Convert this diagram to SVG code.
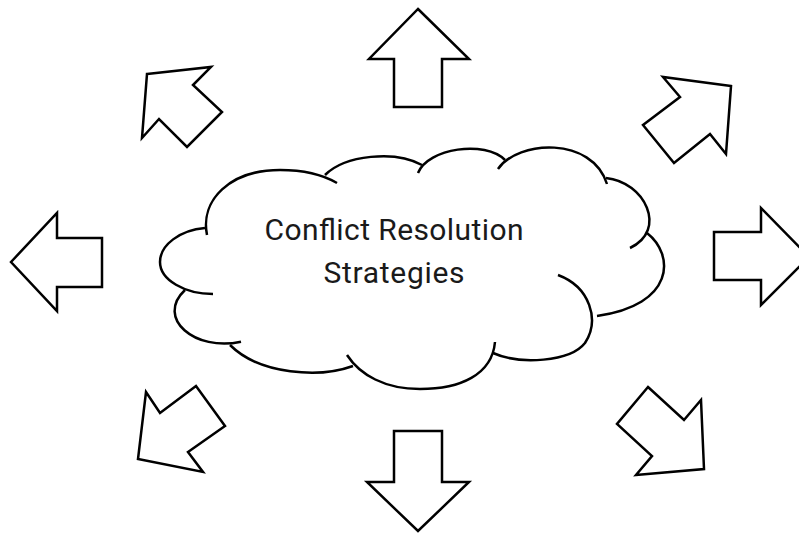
<svg xmlns="http://www.w3.org/2000/svg" width="799" height="534" viewBox="0 0 799 534">
<style>
.arr{fill:#fff;stroke:#000;stroke-width:2.5;stroke-linejoin:miter}
.lobe{fill:none;stroke:#000;stroke-width:2.5;stroke-linecap:butt}
.lbl{font-family:Roboto,"Liberation Sans",sans-serif;font-weight:400;font-size:30px;fill:#1a1a1a;text-anchor:middle}
</style>
<rect width="799" height="534" fill="#fff"/>
<g id="cloud">
<path class="lobe" d="M207,235 C200,200 230,170 280,170 C305,170 325,176 337,183"/>
<path class="lobe" d="M325,175 C345,155 395,150 422,165"/>
<path class="lobe" d="M418,173 C428,148 485,140 505,160"/>
<path class="lobe" d="M498,169 C518,140 592,136 607,184"/>
<path class="lobe" d="M606,178 C645,182 668,230 630,248"/>
<path class="lobe" d="M647,233 C675,255 675,305 597,316"/>
<path class="lobe" d="M558,275 C590,287 600,320 585,343 C570,362 520,365 493,353"/>
<path class="lobe" d="M495,342 C492,375 460,389 420,389 C385,389 360,375 347,355"/>
<path class="lobe" d="M353,366 C320,378 260,375 230,345"/>
<path class="lobe" d="M241,341.7 C195,352 155,318 185,290"/>
<path class="lobe" d="M213,294 C185,294 160,280 160,262 C160,245 180,230 205,228"/>
<text class="lbl" x="394" y="240" textLength="259">Conflict Resolution</text>
<text class="lbl" x="394" y="283" textLength="141">Strategies</text>
</g>
<g id="arrows">
<polygon id="arrow-up" class="arr" points="418,9 469,59 442,59 442,107 394,107 394,59 369,59"/>
<polygon id="arrow-upleft" class="arr" points="147,74 211,67 193,85 222,112 187,147 159,119 142,138"/>
<polygon id="arrow-upright" class="arr" points="731,86 663,77 680,97 643,125 674,163 710,134 726,154"/>
<polygon id="arrow-left" class="arr" points="11,262 57,213 57,238 102,238 102,287 57,287 57,311"/>
<polygon id="arrow-right" class="arr" points="809,257 761,208 761,232 714,232 714,280 761,280 761,305"/>
<polygon id="arrow-downleft" class="arr" points="146,392 160,413 196,386 225,426 188,452 203,472 138,459"/>
<polygon id="arrow-downright" class="arr" points="648,387 684,420 701,400 704,469 636,475 652,456 617,424"/>
<polygon id="arrow-down" class="arr" points="394,431 442,431 442,482 469,482 418,531 367,482 394,482"/>
</g>
</svg>
